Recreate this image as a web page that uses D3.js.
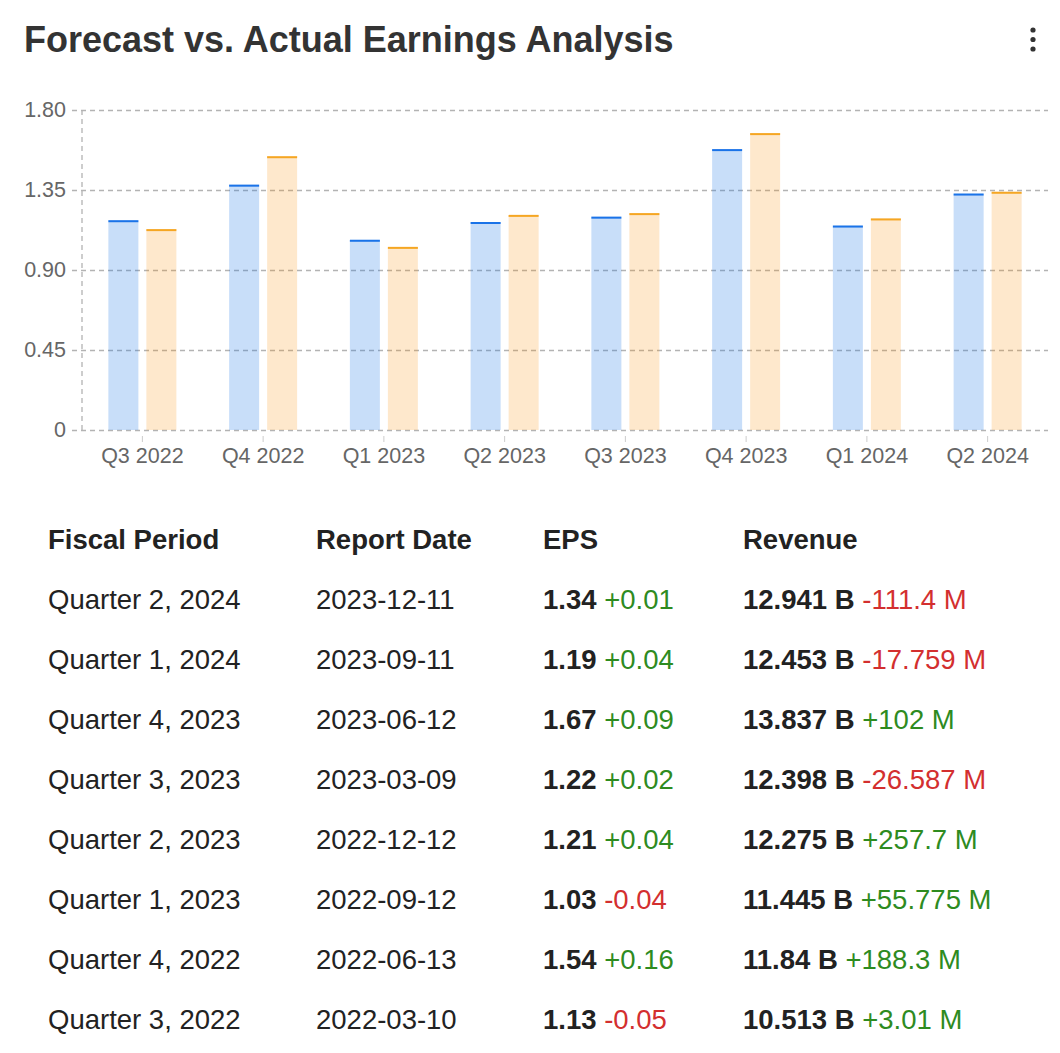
<!DOCTYPE html>
<html>
<head>
<meta charset="utf-8">
<script src="https://cdn.jsdelivr.net/npm/d3@7"></script>
<style>
  html, body { margin: 0; padding: 0; background: #fff; }
  svg { display: block; font-family: "Liberation Sans", Arial, Helvetica, sans-serif; }
</style>
</head>
<body>
<svg id="chart" width="1060" height="1053"></svg>
<script>
const title = "Forecast vs. Actual Earnings Analysis";
const categories = ["Q3 2022", "Q4 2022", "Q1 2023", "Q2 2023", "Q3 2023", "Q4 2023", "Q1 2024", "Q2 2024"];
const forecastEPS = [1.18, 1.38, 1.07, 1.17, 1.20, 1.58, 1.15, 1.33];
const actualEPS = [1.13, 1.54, 1.03, 1.21, 1.22, 1.67, 1.19, 1.34];
const yTicks = [0, 0.45, 0.90, 1.35, 1.80];
const yTickLabels = ["0", "0.45", "0.90", "1.35", "1.80"];

const tableHeaders = ["Fiscal Period", "Report Date", "EPS", "Revenue"];
const fiscalPeriods = ["Quarter 2, 2024", "Quarter 1, 2024", "Quarter 4, 2023", "Quarter 3, 2023", "Quarter 2, 2023", "Quarter 1, 2023", "Quarter 4, 2022", "Quarter 3, 2022"];
const reportDates = ["2023-12-11", "2023-09-11", "2023-06-12", "2023-03-09", "2022-12-12", "2022-09-12", "2022-06-13", "2022-03-10"];
const epsValues = ["1.34", "1.19", "1.67", "1.22", "1.21", "1.03", "1.54", "1.13"];
const epsSurprise = ["+0.01", "+0.04", "+0.09", "+0.02", "+0.04", "-0.04", "+0.16", "-0.05"];
const revenueValues = ["12.941 B", "12.453 B", "13.837 B", "12.398 B", "12.275 B", "11.445 B", "11.84 B", "10.513 B"];
const revenueSurprise = ["-111.4 M", "-17.759 M", "+102 M", "-26.587 M", "+257.7 M", "+55.775 M", "+188.3 M", "+3.01 M"];

const svg = d3.select("#chart");

// Title
svg.append("text").attr("x", 24).attr("y", 52)
  .attr("font-size", 36).attr("font-weight", "bold").attr("fill", "#333")
  .text(title);

// kebab menu
svg.append("g").selectAll("circle").data([30, 39.5, 49]).join("circle")
  .attr("cx", 1033).attr("cy", d => d).attr("r", 2.6).attr("fill", "#333");

// Chart
const margin = { left: 82, right: 1048, top: 110, bottom: 430 };
const x = d3.scaleBand().domain(categories).range([margin.left, margin.right]);
const y = d3.scaleLinear().domain([0, 1.8]).range([margin.bottom, margin.top]);

const g = svg.append("g");

// Y axis with gridlines
const yAxis = d3.axisLeft(y).tickValues(yTicks)
  .tickFormat((d, i) => yTickLabels[i])
  .tickSize(0).tickPadding(6);
const ya = g.append("g").attr("transform", `translate(${margin.left - 10},0)`).call(yAxis);
ya.select(".domain").remove();
ya.selectAll(".tick line")
  .attr("x1", 0).attr("x2", margin.right - margin.left + 10)
  .attr("stroke", "#b3b3b3").attr("stroke-width", 1.3).attr("stroke-dasharray", "5,4");
ya.selectAll(".tick text").attr("font-size", 21.5).attr("fill", "#666")
  .attr("font-family", "'Liberation Sans', Arial, sans-serif").attr("x", -6);

// Vertical dashed axis line
g.append("line").attr("x1", margin.left).attr("x2", margin.left)
  .attr("y1", y(1.8)).attr("y2", y(0))
  .attr("stroke", "#b3b3b3").attr("stroke-width", 1.3).attr("stroke-dasharray", "5,4");

// Bars
const barW = 30, gap = 8;
const series = [
  { values: forecastEPS, fill: "rgba(26,115,232,0.24)", stroke: "#1a73e8", offset: -gap / 2 - barW },
  { values: actualEPS, fill: "rgba(251,140,0,0.2)", stroke: "#f5a623", offset: gap / 2 }
];
series.forEach(s => {
  const cx = d => x(d) + x.bandwidth() / 2;
  g.append("g").selectAll("rect").data(categories).join("rect")
    .attr("x", d => cx(d) + s.offset)
    .attr("y", (d, i) => y(s.values[i]))
    .attr("width", barW)
    .attr("height", (d, i) => y(0) - y(s.values[i]))
    .attr("fill", s.fill);
  g.append("g").selectAll("line").data(categories).join("line")
    .attr("x1", d => cx(d) + s.offset)
    .attr("x2", d => cx(d) + s.offset + barW)
    .attr("y1", (d, i) => y(s.values[i]) + 1)
    .attr("y2", (d, i) => y(s.values[i]) + 1)
    .attr("stroke", s.stroke).attr("stroke-width", 2);
});

// X axis
const xAxis = d3.axisBottom(x).tickSize(6).tickPadding(6);
const xa = g.append("g").attr("transform", `translate(0,${margin.bottom + 6})`).call(xAxis);
xa.select(".domain").remove();
xa.selectAll(".tick line").attr("stroke", "#ccc");
xa.selectAll(".tick text").attr("font-size", 21.5).attr("fill", "#666")
  .attr("font-family", "'Liberation Sans', Arial, sans-serif");

// Table
const colX = [48, 316, 543, 743];
const headY = 549, rowY0 = 609, rowH = 60;
const tbl = svg.append("g").attr("font-size", 27.5).attr("fill", "#222");
tbl.selectAll("text.h").data(tableHeaders).join("text").attr("class", "h")
  .attr("x", (d, i) => colX[i]).attr("y", headY).attr("font-weight", "bold").text(d => d);

const colorFor = v => v.startsWith("-") ? "#d32f2f" : "#2e8b1f";
fiscalPeriods.forEach((fp, i) => {
  const yy = rowY0 + i * rowH;
  tbl.append("text").attr("x", colX[0]).attr("y", yy).text(fp);
  tbl.append("text").attr("x", colX[1]).attr("y", yy).text(reportDates[i]);
  const t1 = tbl.append("text").attr("x", colX[2]).attr("y", yy);
  t1.append("tspan").attr("font-weight", "bold").text(epsValues[i]);
  t1.append("tspan").attr("fill", colorFor(epsSurprise[i])).text(" " + epsSurprise[i]);
  const t2 = tbl.append("text").attr("x", colX[3]).attr("y", yy);
  t2.append("tspan").attr("font-weight", "bold").text(revenueValues[i]);
  t2.append("tspan").attr("fill", colorFor(revenueSurprise[i])).text(" " + revenueSurprise[i]);
});
</script>
</body>
</html>
